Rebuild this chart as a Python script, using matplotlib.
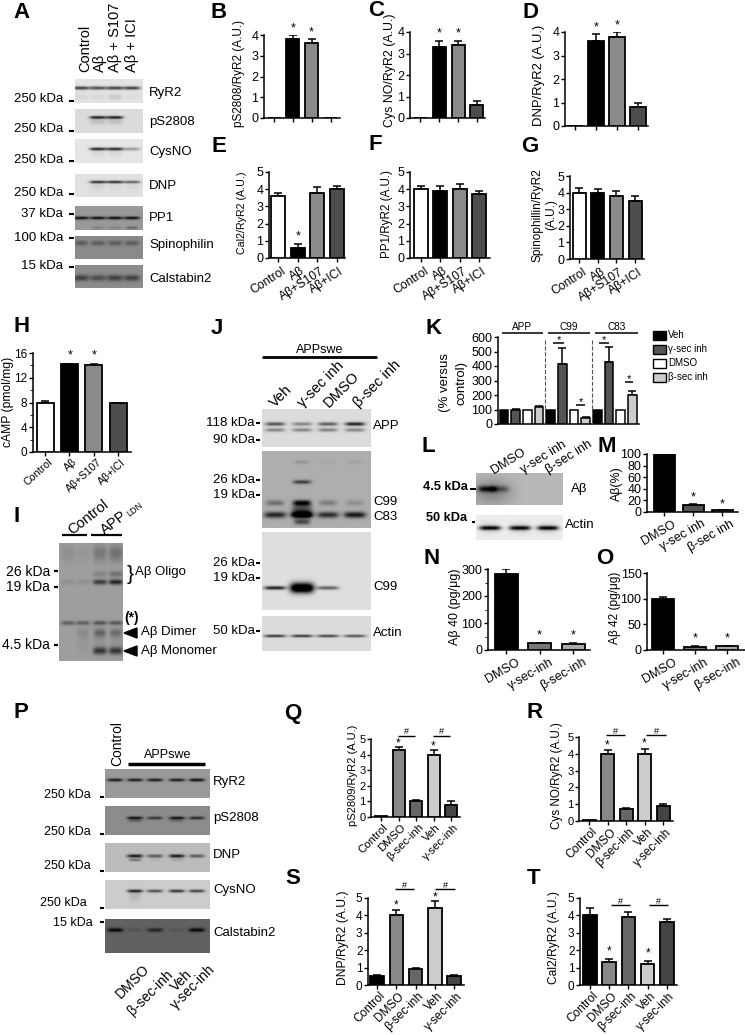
import numpy as np
import matplotlib
matplotlib.use("Agg")
import matplotlib.pyplot as plt
from matplotlib.patches import Polygon

plt.rcParams['font.family'] = ['Liberation Sans', 'DejaVu Sans']
W, H = 745, 1035
fig = plt.figure(figsize=(W / 100, H / 100), dpi=100, facecolor='white')

# ---------- data ----------
cond_a = ['Control', 'Aβ', 'Aβ+S107', 'Aβ+ICI']
cols_a = ['white', 'black', '#8a8a8a', '#4d4d4d']
B_vals = [0.02, 3.8, 3.6, 0.02]; B_errs = [0, 0.2, 0.2, 0]
C_vals = [0.0, 3.3, 3.4, 0.6];   C_errs = [0, 0.3, 0.2, 0.2]
D_vals = [0.0, 3.6, 3.8, 0.8];   D_errs = [0, 0.3, 0.2, 0.2]
E_vals = [3.6, 0.6, 3.8, 4.0];   E_errs = [0.2, 0.2, 0.3, 0.2]
F_vals = [4.0, 3.9, 4.0, 3.7];   F_errs = [0.2, 0.3, 0.3, 0.2]
G_vals = [4.0, 4.0, 3.8, 3.5];   G_errs = [0.3, 0.2, 0.3, 0.3]
H_vals = [8.0, 14.2, 14.1, 7.9]; H_errs = [0.2, 0.1, 0.15, 0.05]

K_legend = ['Veh', 'γ-sec inh', 'DMSO', 'β-sec inh']
K_cols = ['black', '#555555', 'white', '#cccccc']
K_groups = ['APP', 'C99', 'C83']
K_vals = [100, 100, 100, 115, 100, 415, 100, 40, 100, 430, 100, 200]
K_errs = [0, 5, 0, 10, 0, 110, 0, 5, 0, 100, 0, 30]

cond_m = ['DMSO', 'γ-sec inh', 'β-sec inh']
M_vals = [100, 12, 3];  M_errs = [0, 2, 1]
cond_n = ['DMSO', 'γ-sec-inh', 'β-sec-inh']
N_vals = [280, 25, 24]; N_errs = [20, 1, 0.5]
O_vals = [99, 6, 7];    O_errs = [4, 1, 1]

cond_q = ['Control', 'DMSO', 'β-sec-inh', 'Veh', 'γ-sec-inh']
cols_q = ['black', '#888888', '#666666', '#cccccc', '#444444']
Q_vals = [0.05, 4.3, 1.0, 4.0, 0.8]; Q_errs = [0, 0.2, 0.1, 0.3, 0.2]
R_vals = [0.05, 4.0, 0.7, 4.0, 0.9]; R_errs = [0, 0.2, 0.1, 0.3, 0.1]
S_vals = [0.5, 4.0, 0.9, 4.4, 0.5];  S_errs = [0.1, 0.3, 0.1, 0.4, 0.1]
T_vals = [4.0, 1.3, 3.9, 1.2, 3.6];  T_errs = [0.4, 0.2, 0.3, 0.2, 0.2]

letters = {'A': (22, 12), 'B': (219, 12), 'C': (376, 11), 'D': (530, 12), 'E': (219, 146),
           'F': (375, 145), 'G': (530, 146), 'H': (22, 327), 'I': (17, 517), 'J': (217, 328),
           'K': (434, 328), 'L': (428, 447), 'M': (607, 447), 'N': (432, 558), 'O': (605, 558),
           'P': (21, 713), 'Q': (293, 713), 'R': (535, 713), 'S': (293, 878), 'T': (534, 878)}


# ---------- helpers ----------
def T(x, y, s, size=9.5, ha='left', va='center', rot=0, **kw):
    return fig.text(x / W, 1 - y / H, s, fontsize=size, ha=ha, va=va, rotation=rot,
                    rotation_mode='anchor', **kw)


def HL(x0, x1, y, lw=1.0, color='black', **kw):
    fig.add_artist(plt.Line2D([x0 / W, x1 / W], [1 - y / H, 1 - y / H], color=color, lw=lw,
                              solid_capstyle='butt', **kw))


def VL(x, y0, y1, lw=1.0, color='black', **kw):
    fig.add_artist(plt.Line2D([x / W, x / W], [1 - y0 / H, 1 - y1 / H], color=color, lw=lw, **kw))


def bars(x0, x1, y0, ytop, ymax, yticks, c0, step, wid, vals, errs, cols, labels=None,
         tsize=9, lsize=8.7, rot=33, edge=1.3, minor=None, off=(3, 7), ticks_x=True):
    ax = fig.add_axes([x0 / W, 1 - y0 / H, (x1 - x0) / W, (y0 - ytop) / H])
    idx = np.arange(len(vals))
    ax.bar(idx, vals, width=wid / step, color=cols, edgecolor='black', linewidth=edge, zorder=3)
    e = np.array(errs, float)
    mask = e > 0
    ax.errorbar(idx[mask], np.array(vals)[mask], yerr=[np.zeros(mask.sum()), e[mask]], fmt='none',
                ecolor='black', elinewidth=1.1, capsize=3.2, capthick=1.1, zorder=2)
    ax.set_xlim((x0 - c0) / step, (x1 - c0) / step)
    ax.set_ylim(0, ymax)
    ax.patch.set_alpha(0)
    ax.set_yticks(yticks)
    if minor is not None:
        ax.set_yticks(minor, minor=True)
    ax.set_xticks(idx if ticks_x else [])
    ax.set_xticklabels([])
    ax.tick_params(axis='both', labelsize=tsize, length=3, width=1, pad=1)
    for s in ('top', 'right'):
        ax.spines[s].set_visible(False)
    for s in ('left', 'bottom'):
        ax.spines[s].set_linewidth(1.1)
    if labels:
        for i, lab in enumerate(labels):
            T(c0 + step * i + off[0], y0 + off[1], lab, size=lsize, ha='right', va='top', rot=rot)
    return ax


def blot(x0, y0, x1, y1, bg, lanes, rows):
    """rows: (y px, sigma y, half width, [darkness per lane])"""
    ax = fig.add_axes([x0 / W, 1 - y1 / H, (x1 - x0) / W, (y1 - y0) / H])
    xs = np.linspace(x0, x1, int((x1 - x0) * 3))
    ys = np.linspace(y0, y1, int((y1 - y0) * 3))
    xx, yy = np.meshgrid(xs, ys)
    img = np.full(xx.shape, bg, float)
    for (yc, sy, hw, dark) in rows:
        for lx, d in zip(lanes, dark):
            if d:
                img -= d * np.exp(-((yy - yc) / sy) ** 2 / 2) * np.exp(-((xx - lx) / hw) ** 4)
    ax.imshow(np.clip(img, 0, 1), cmap='gray', vmin=0, vmax=1, extent=(x0, x1, y1, y0), aspect='auto')
    ax.axis('off')


def star(x, y, size=9):
    T(x, y, '*', size=size, ha='center', va='center')


# ---------- panel letters ----------
for k, (x, y) in letters.items():
    T(x, y, k, size=16, ha='center', va='center', fontweight='bold')

# ---------- A ----------
la = [81, 98, 115, 132]
blot(75, 79, 143, 103, .89, la, [(88, 1.2, 8.5, [.65, .6, .65, .65]), (97, 2, 7, [.05, .04, .1, .03])])
blot(75, 109, 143, 133, .86, la, [(118, 1.0, 8.5, [0, .75, .75, 0]), (122, 2, 8, [0, .12, .12, 0])])
blot(75, 139, 143, 163, .9, la, [(149, 1.1, 8.5, [0, .75, .75, .3]), (154, 2, 7, [0, .06, .06, 0])])
blot(75, 174, 143, 197, .88, la, [(182, 1.0, 8.5, [0, .7, .7, .5]), (187, 2.5, 7, [0, .06, .04, .03])])
blot(75, 206, 143, 230, .6, la, [(218, 1.1, 8, [.55, .55, .55, .55]), (228, 1, 6, [0, .1, .1, .2])])
blot(75, 236, 143, 259, .54, la, [(243, 1.8, 7, [.18, .18, .18, .18])])
blot(75, 265, 143, 288, .55, la, [(278, 2.2, 8, [.3, .25, .3, .3])])
for y, s in [(93, 'RyR2'), (122, 'pS2808'), (152, 'CysNO'), (186, 'DNP'), (218, 'PP1'),
             (245, 'Spinophilin'), (279, 'Calstabin2')]:
    T(149, y, s, size=9.5)
for y, ty, s in [(99, 101, '250 kDa'), (129, 131, '250 kDa'), (160, 161, '250 kDa'), (193, 194, '250 kDa'),
                 (214, 214, '37 kDa'), (238, 238, '100 kDa'), (266, 267, '15 kDa')]:
    T(63, y, s, size=9.5, ha='right')
    HL(69, 74, ty, lw=1.5)
for x, s in [(85, 'Control'), (100, 'Aβ'), (115, 'Aβ + S107'), (132, 'Aβ + ICI')]:
    T(x, 72, s, size=10.5, ha='left', va='center', rot=90)

# ---------- B-G ----------
bars(264, 340, 118, 35, 4, range(5), 274, 18.9, 13, B_vals, B_errs, cols_a)
bars(410, 485, 118, 32, 4, range(5), 420, 19, 13, C_vals, C_errs, cols_a)
bars(565, 648, 126, 32, 4, range(5), 575, 21, 16.5, D_vals, D_errs, cols_a)
bars(269, 345, 258, 172, 5, range(6), 278, 19.5, 14, E_vals, E_errs, cols_a, cond_a)
bars(410, 490, 258, 172, 5, range(6), 421, 19.4, 14, F_vals, F_errs, cols_a, cond_a)
bars(570, 644, 259, 176, 5, range(6), 579, 18.7, 13, G_vals, G_errs, cols_a, cond_a)
T(239, 73, 'pS2808/RyR2 (A.U.)', size=8.45, ha='center', rot=90)
T(390, 70, 'Cys NO/RyR2 (A.U.)', size=8.95, ha='center', rot=90)
T(539, 75, 'DNP/RyR2 (A.U.)', size=9.35, ha='center', rot=90)
T(242, 213, 'Cal2/RyR2 (A.U.)', size=7.65, ha='center', rot=90)
T(387, 214, 'PP1/RyR2 (A.U.)', size=8.4, ha='center', rot=90)
T(538, 215, 'Spinophillin/RyR2', size=8.6, ha='center', rot=90)
T(551, 215, '(A.U.)', size=8.6, ha='center', rot=90)
for x, y in [(293, 28), (311, 32), (439, 33), (458, 33), (596, 27), (617, 25), (298, 236)]:
    star(x, y)

# ---------- H ----------
bars(33, 131, 452, 353, 16, [0, 4, 8, 12, 16], 45, 24.4, 17, H_vals, H_errs, cols_a, cond_a,
     tsize=8.5, lsize=7.7, rot=42, off=(3, 5), minor=[2, 6, 10, 14])
T(8, 402, 'cAMP (pmol/mg)', size=8.7, ha='center', rot=90)
star(70, 355); star(94, 355)

# ---------- I ----------
li = [68, 83, 100, 116]
blot(59, 543, 123, 661, .62, li, [
    (553, 6, 7, [.06, .03, .15, .18]),
    (574, 2.2, 7, [0, 0, .1, .18]),
    (582, 1.8, 7, [.06, .06, .4, .5]),
    (623, 1.5, 7, [.25, .25, .3, .28]),
    (633, 3, 6, [0, .06, .22, .18]),
    (642, 8, 6, [0, .03, .04, .04]),
    (651, 2.6, 7, [0, 0, .4, .4])])
HL(62, 87, 535, lw=1.6); HL(91, 122, 535, lw=1.6)
T(88, 517, 'Control', size=10.5, ha='center', rot=38)
T(114, 523, 'APP', size=10.5, ha='center', rot=38)
T(135, 509, 'LDN', size=6.5, ha='center', rot=38)
for y, ty, s in [(572, 571, '26 kDa'), (587, 587, '19 kDa'), (645, 645, '4.5 kDa')]:
    T(50, y, s, size=10, ha='right')
    HL(54, 58, ty, lw=1.6)
T(135, 572, 'Aβ Oligo', size=9.5)
T(130, 575, '}', size=15, ha='center')
T(124, 618, '(*)', size=10, fontweight='bold')
for y in (633, 651):
    fig.add_artist(Polygon([(124 / W, 1 - y / H), (137 / W, 1 - (y - 5) / H), (137 / W, 1 - (y + 5) / H)],
                           closed=True, color='black', transform=fig.transFigure))
T(141, 632, 'Aβ Dimer', size=9.5)
T(141, 651, 'Aβ Monomer', size=9.5)

# ---------- J ----------
lj = [275, 302, 328, 355]
blot(262, 409, 371, 447, .86, lj, [(424, 1.3, 10, [.55, .35, .5, .75]), (430, 1.3, 10, [.35, .35, .35, .35])])
blot(262, 451, 371, 528, .68, lj, [
    (462, 1.2, 7, [0, .1, .03, .05]),
    (482, 1.4, 9, [0, .45, 0, 0]),
    (503, 2, 9, [.25, .65, .2, .12]),
    (515, 2.2, 11, [.55, .9, .5, .6]),
    (510, 4, 10, [0, .4, 0, 0]),
    (522, 2, 8, [0, .4, 0, 0])])
blot(262, 532, 371, 610, .87, lj, [(588, 1.3, 11, [.75, 0, .5, 0]), (588, 3.6, 12, [0, 1.2, 0, 0])])
blot(262, 616, 371, 651, .86, lj, [(636, 1.0, 11, [.65, .65, .6, .55])])
T(320, 350, 'APPswe', size=9, ha='center')
HL(262, 377, 357, lw=2)
for x, s in [(272, 'Veh'), (300, 'γ-sec inh'), (326, 'DMSO'), (356, 'β-sec inh')]:
    T(x, 405, s, size=10.5, ha='left', va='center', rot=45)
for y, s in [(423, '118 kDa'), (440, '90 kDa'), (480, '26 kDa'), (495, '19 kDa'),
             (563, '26 kDa'), (578, '19 kDa'), (631, '50 kDa')]:
    T(255, y, s, size=9.5, ha='right')
    HL(256, 260, y, lw=1.5)
for y, s in [(426, 'APP'), (502, 'C99'), (517, 'C83'), (587, 'C99'), (633, 'Actin')]:
    T(373, y, s, size=9.5)

# ---------- K ----------
bars(498, 639, 424, 337, 600, range(0, 601, 100), 504, 11.67, 8.5, K_vals, K_errs,
     K_cols * 3, tsize=9, edge=1.1, ticks_x=False)
T(445, 383, '(% versus', size=9.5, ha='center', rot=90)
T(461, 383, 'control)', size=9.5, ha='center', rot=90)
for (a, b), s in zip([(502, 543), (548, 590), (595, 638)], K_groups):
    HL(a, b, 333, lw=1.1)
    T((a + b) / 2, 327, s, size=7.2, ha='center')
for x in (545, 592):
    VL(x, 340, 424, lw=.8, color='#555555', ls='--')
for a, b, y in [(553, 564, 343), (576, 585, 405), (599, 609, 343), (625, 633, 382)]:
    HL(a, b, y, lw=1.1)
    star((a + b) / 2, y - 2.5, 8)
for y, s, c in zip((335, 349, 363, 377), K_legend, K_cols):
    fig.add_artist(plt.Rectangle((653 / W, 1 - (y + 4.5) / H), 13 / W, 9 / H, facecolor=c,
                                 edgecolor='black', lw=1, transform=fig.transFigure))
    T(668, y, s, size=7)

# ---------- L ----------
blot(476, 473, 563, 505, .72, [487, 500, 530], [(489, 2.2, 9, [.55, .3, 0]), (492, 9, 18, [.12, .08, 0])])
blot(476, 515, 563, 540, .93, [490, 520, 548], [(528, 1.5, 11, [.85, .85, .85]), (528, 4, 10, [.12, .12, .12])])
T(468, 487, '4.5 kDa', size=9.2, ha='right', fontweight='bold')
T(467, 518, '50 kDa', size=9.2, ha='right', fontweight='bold')
HL(470, 476, 489, lw=1.5); HL(472, 475, 522, lw=1.5)
T(571, 489, 'Aβ', size=9.5)
T(565, 525, 'Actin', size=9.5)
for x, s in [(492, 'DMSO'), (522, 'γ-sec inh'), (547, 'β-sec inh')]:
    T(x, 471, s, size=9.2, ha='left', rot=32)

# ---------- M N O ----------
bars(647, 738, 512, 454, 100, range(0, 101, 20), 664, 29, 21, M_vals, M_errs,
     ['black', '#555555', '#999999'], cond_m, tsize=9, lsize=9, rot=30, off=(8, 6))
T(617, 484, 'Aβ(%)', size=8.9, ha='center', rot=90)
star(693, 497); star(722, 504)
bars(488, 590, 650, 569, 300, [0, 100, 200, 300], 506, 33.5, 23, N_vals, N_errs,
     ['black', '#777777', '#aaaaaa'], cond_n, tsize=9, lsize=9, rot=30, off=(10, 6),
     minor=[50, 150, 250])
T(455, 607, 'Aβ 40 (pg/μg)', size=9, ha='center', rot=90)
star(539, 635); star(573, 635)
bars(647, 745, 650, 573, 150, [0, 50, 100, 150], 663, 32, 22, O_vals, O_errs,
     ['black', '#777777', '#aaaaaa'], cond_n, tsize=9, lsize=9, rot=30, off=(10, 6))
T(615, 608, 'Aβ 42 (pg/μg)', size=8.6, ha='center', rot=90)
star(695, 638); star(727, 638)

# ---------- P ----------
lp = [115, 135, 155, 177, 197]
blot(105, 769, 210, 798, .6, lp, [(780, 1.1, 8, [.5, .5, .5, .5, .55])])
blot(105, 806, 210, 835, .55, lp, [(818, 1.1, 8, [0, .5, .35, .5, .4]), (821, 1, 7, [0, .15, 0, .12, 0])])
blot(105, 843, 210, 872, .74, lp, [(856, 1.2, 8, [0, .65, .4, .65, .4]), (860, 1, 6, [0, .3, .04, .1, 0])])
blot(105, 880, 210, 909, .8, lp, [(891, 1.1, 8, [0, .65, .5, .6, .55]), (896, 4, 6, [0, .08, 0, 0, 0])])
blot(105, 919, 210, 953, .38, lp, [(930, 1.4, 8, [.36, .06, .25, .05, .36])])
for y, s in [(782, 'RyR2'), (818, 'pS2808'), (855, 'DNP'), (890, 'CysNO'), (933, 'Calstabin2')]:
    T(213, y, s, size=9.5)
for rx, y, ty, s in [(91, 795, 797, '250 kDa'), (91, 832, 834, '250 kDa'), (91, 866, 871, '250 kDa'),
                     (87, 903, 908, '250 kDa'), (93, 923, 922, '15 kDa')]:
    T(rx, y, s, size=9, ha='right')
    HL(100, 104, ty, lw=1.5)
T(117, 766, 'Control', size=10, rot=90)
T(168, 755, 'APPswe', size=9, ha='center')
HL(128, 205, 764, lw=2.5)
for x, y, s in [(142, 962, 'DMSO'), (166, 967, 'β-sec-inh'), (185, 967, 'Veh'), (208, 962, 'γ-sec-inh')]:
    T(x, y, s, size=10, ha='right', va='top', rot=45)

# ---------- Q R S T ----------
bars(371, 460, 817, 739, 5, range(6), 381, 17.5, 12, Q_vals, Q_errs, cols_q, cond_q, tsize=8, lsize=8.2, rot=45, off=(2, 5))
bars(579, 673, 821, 737, 5, range(6), 589, 18.6, 13, R_vals, R_errs, cols_q, cond_q, tsize=8, lsize=8.6, rot=45, off=(2, 5))
bars(368, 464, 985, 898, 5, range(6), 377, 19.3, 13.5, S_vals, S_errs, cols_q, cond_q, tsize=8.5, lsize=8.6, rot=45, off=(2, 5))
bars(580, 677, 985, 898, 5, range(6), 590, 19.2, 13.5, T_vals, T_errs, cols_q, cond_q, tsize=8.5, lsize=8.6, rot=45, off=(2, 5))
T(353, 775, 'pS2809/RyR2 (A.U.)', size=8, ha='center', rot=90)
T(557, 776, 'Cys NO/RyR2 (A.U.)', size=8.4, ha='center', rot=90)
T(343, 938, 'DNP/RyR2 (A.U.)', size=8.7, ha='center', rot=90)
T(554, 938, 'Cal2/RyR2 (A.U.)', size=8.67, ha='center', rot=90)
for a, b, y in [(398, 415, 736), (433, 450, 736), (606, 625, 735), (646, 666, 735),
                (395, 414, 889), (435, 455, 889), (611, 630, 905), (649, 668, 905)]:
    HL(a, b, y, lw=1.0)
    T((a + b) / 2, y - 4, '#', size=6.5, ha='center')
for x, y in [(398, 743), (433, 746), (607, 745), (644, 743), (396, 905), (435, 897), (609, 951), (648, 953)]:
    star(x, y, 8.5)

fig.savefig('out.png', dpi=100, facecolor='white')
